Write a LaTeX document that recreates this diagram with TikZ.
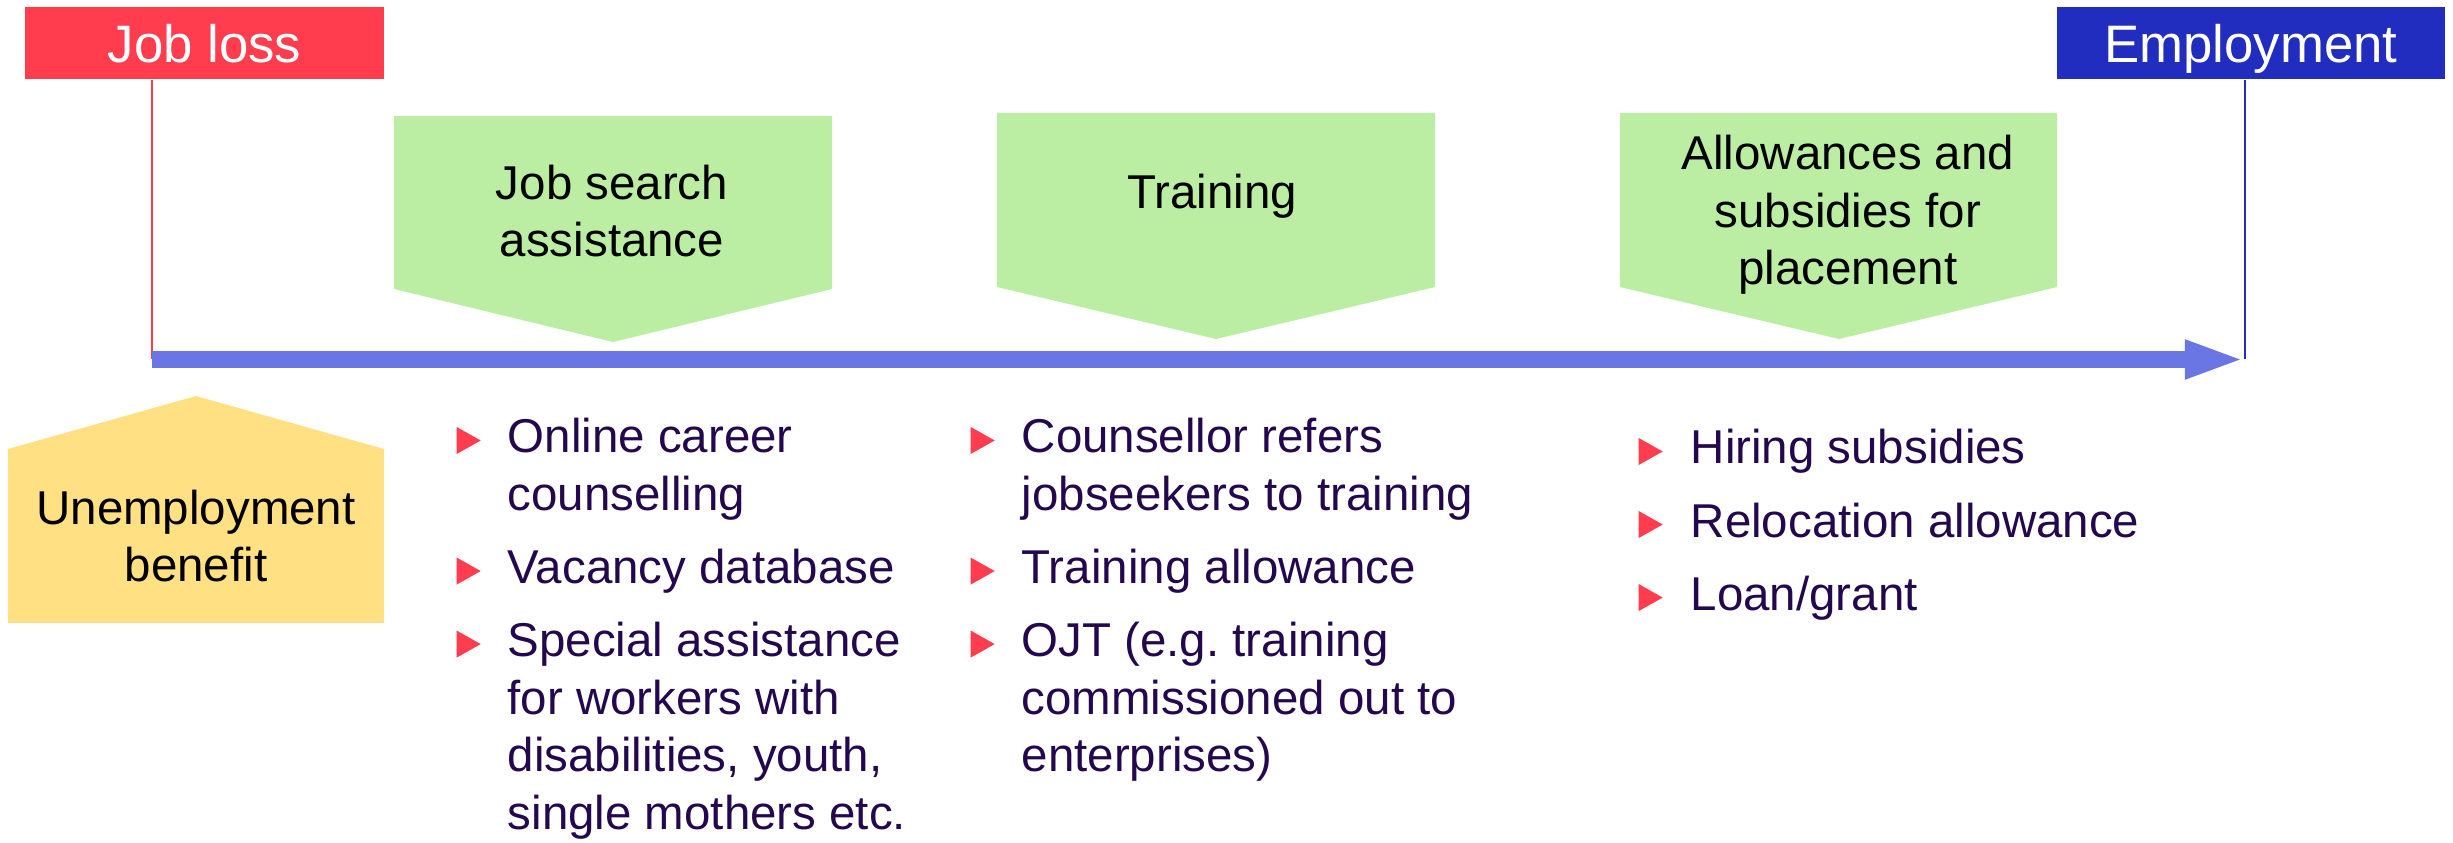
\documentclass[tikz,border=0pt]{standalone}
\usepackage{fontspec}
\setmainfont{Liberation Sans}
\usepackage{xcolor}
\usetikzlibrary{arrows.meta}

\definecolor{lossred}{RGB}{255,61,79}
\definecolor{empblue}{RGB}{32,45,190}
\definecolor{barblue}{RGB}{106,118,228}
\definecolor{stagegreen}{RGB}{187,237,162}
\definecolor{benefityellow}{RGB}{255,224,130}
\definecolor{itempurple}{RGB}{35,8,80}

% red pointer in front of each item
\newcommand{\bulletmark}{\tikz[baseline=0pt]\fill[lossred] (0cm,-0.01cm) -- (0.24cm,0.125cm) -- (0cm,0.26cm) -- cycle;}

\begin{document}
\begin{tikzpicture}[
    x=0.01cm, y=-0.01cm, % one unit per pixel, y going down
    event/.style={rectangle,fill=#1,text=white,font=\fontsize{15pt}{18pt}\selectfont,
        minimum height=0.72cm,text height=0.38cm,text depth=0cm,inner sep=0pt},
    stage/.style={fill=stagegreen},
    stagetext/.style={align=center,inner sep=0pt,font=\fontsize{13.5pt}{0.575cm}\selectfont},
    items/.style={anchor=base west,inner sep=0pt,text=itempurple,font=\fontsize{13.5pt}{0.575cm}\selectfont},
    bar/.style={line width=0.17cm,draw=barblue,-{Triangle[length=0.6cm,width=0.35cm]}}
]
    \useasboundingbox (0,0) rectangle (2453,843);

    % start and end of the path
    \node[event=lossred,minimum width=3.59cm] (loss) at (204.5,43) {Job loss};
    \node[event=empblue,minimum width=3.88cm] (employ) at (2251,43) {Employment};

    \coordinate (start) at (152,359.5);
    \coordinate (finish) at (2245,359.5);
    \draw[lossred,line width=0.4pt] (loss.south -| start) -- (start);
    \draw[empblue,line width=0.5pt] (employ.south -| finish) -- (finish);
    \draw[bar] (start) -- (finish);

    % measures along the way
    \fill[stage] (394,116) -- (832,116) -- (832,289) -- (613,342) -- (394,289) -- cycle;
    \fill[stage] (997,113) -- (1435,113) -- (1435,287) -- (1216,339) -- (997,287) -- cycle;
    \fill[stage] (1620,113) -- (2057,113) -- (2057,287) -- (1839,339) -- (1620,287) -- cycle;
    \node[stagetext] (search) at (612,211) {Job search\\assistance};
    \node[stagetext] (training) at (1212,196) {Training};
    \node[stagetext] (placement) at (1848,215) {Allowances and\\subsidies for\\placement};

    % benefit under the line
    \fill[fill=benefityellow] (8,449) -- (196,396) -- (384,449) -- (384,623) -- (8,623) -- cycle;
    \node[stagetext] (benefit) at (196,536) {Unemployment\\benefit};

    % items of each measure
    \node[items] (searchitems) at (456,453) {\begin{tabular}[t]{@{}l@{\hspace{0.27cm}}l@{}}
        \bulletmark & Online career\\
                    & counselling\\[0.155cm]
        \bulletmark & Vacancy database\\[0.155cm]
        \bulletmark & Special assistance\\
                    & for workers with\\
                    & disabilities, youth,\\
                    & single mothers etc.
    \end{tabular}};
    \node[items] (trainingitems) at (970,453) {\begin{tabular}[t]{@{}l@{\hspace{0.27cm}}l@{}}
        \bulletmark & Counsellor refers\\
                    & jobseekers to training\\[0.155cm]
        \bulletmark & Training allowance\\[0.155cm]
        \bulletmark & OJT (e.g.\ training\\
                    & commissioned out to\\
                    & enterprises)
    \end{tabular}};
    \node[items] (placementitems) at (1638,464) {\begin{tabular}[t]{@{}l@{\hspace{0.28cm}}l@{}}
        \bulletmark & Hiring subsidies\\[0.155cm]
        \bulletmark & Relocation allowance\\[0.155cm]
        \bulletmark & Loan/grant
    \end{tabular}};
\end{tikzpicture}
\end{document}
